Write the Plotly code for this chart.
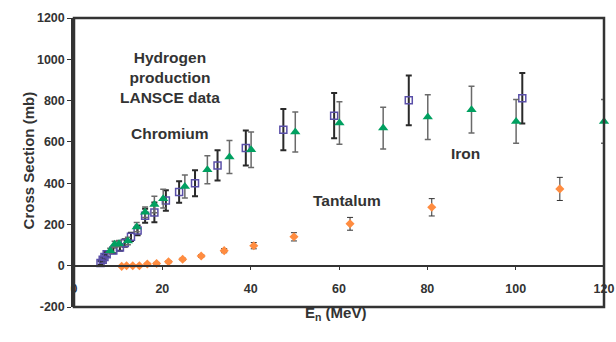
import plotly.graph_objects as go

# Chromium (open squares)
cr_E = [6.0, 6.5, 6.9, 7.4, 8.9, 10.4, 11.5, 12.9, 14.4, 16.1, 18.2, 20.8, 23.8, 27.4, 32.5, 38.9, 47.4, 58.9, 75.8, 101.5]
cr_v = [13, 29, 42, 55, 74, 88, 110, 140, 171, 242, 258, 316, 357, 400, 486, 570, 659, 727, 801, 811]
cr_e = [10, 10, 12, 12, 14, 16, 18, 20, 24, 34, 48, 50, 52, 63, 73, 85, 100, 110, 121, 122]

# Iron (green triangles)
fe_E = [8.2, 9.2, 10.2, 12.2, 14.2, 16.1, 18.2, 20.2, 25.1, 30.2, 35.2, 40.1, 50.1, 60.1, 70.0, 80.1, 90.0, 100.1, 120.0]
fe_v = [73, 104, 107, 120, 187, 259, 297, 325, 384, 465, 527, 562, 648, 691, 667, 720, 756, 699, 699]
fe_e = [12, 15, 15, 18, 22, 25, 40, 45, 56, 68, 80, 86, 97, 103, 101, 108, 113, 106, 106]

# Tantalum (orange diamonds)
ta_E = [10.8, 11.9, 13.3, 14.8, 16.6, 18.7, 21.4, 24.6, 28.8, 34.0, 40.7, 49.8, 62.5, 81.0, 110.0]
ta_v = [-3, 0, 0, 0, 8, 11, 19, 31, 47, 73, 97, 140, 203, 283, 372]
ta_e = [3, 3, 3, 3, 4, 5, 5, 6, 7, 10, 15, 20, 31, 42, 56]

x_ticks = [0, 20, 40, 60, 80, 100, 120]
y_ticks = [-200, 0, 200, 400, 600, 800, 1000, 1200]

fig = go.Figure()
fig.add_trace(go.Scatter(
    x=cr_E, y=cr_v, mode="markers", name="Chromium", cliponaxis=False,
    marker=dict(symbol="square-open", size=7, color="#5a4fa8", line=dict(width=1.5)),
    error_y=dict(type="data", array=cr_e, color="#2a2a2a", thickness=2, width=3),
))
fig.add_trace(go.Scatter(
    x=fe_E, y=fe_v, mode="markers", name="Iron", cliponaxis=False,
    marker=dict(symbol="triangle-up", size=9, color="#00a060"),
    error_y=dict(type="data", array=fe_e, color="#6a6a6a", thickness=1.5, width=3),
))
fig.add_trace(go.Scatter(
    x=ta_E, y=ta_v, mode="markers", name="Tantalum", cliponaxis=False,
    marker=dict(symbol="diamond", size=7, color="#ff8c40"),
    error_y=dict(type="data", array=ta_e, color="#333333", thickness=1, width=3),
))

bold = dict(family="Liberation Sans, Arial, sans-serif", size=12.5, color="#333333", weight="bold")

fig.update_layout(
    width=616, height=342,
    margin=dict(l=74, r=12, t=18, b=35, autoexpand=False),
    paper_bgcolor="white", plot_bgcolor="white",
    showlegend=False,
    xaxis=dict(range=[0, 120], tickvals=x_ticks, ticktext=[str(t) for t in x_ticks],
               anchor="free", position=200/1400, showline=True, linecolor="#333333", linewidth=1.5,
               ticks="outside", ticklen=4, tickcolor="#333333", tickfont=bold,
               ticklabelstandoff=8, showgrid=False, zeroline=False, automargin=False),
    yaxis=dict(range=[-200, 1200], tickvals=y_ticks, ticktext=[str(t) for t in y_ticks],
               showline=True, linecolor="#333333", linewidth=2.5,
               ticks="outside", ticklen=4, tickcolor="#333333", tickfont=bold,
               showgrid=False, zeroline=False, automargin=False),
    shapes=[dict(type="rect", xref="paper", yref="paper", x0=0, x1=1, y0=0, y1=1,
                 line=dict(color="#333333", width=2.5))],
)

ann_font = dict(family="Liberation Sans, Arial, sans-serif", size=15.5, color="#333333", weight="bold")
fig.add_annotation(x=21.7, y=911, text="Hydrogen<br>production<br>LANSCE data", showarrow=False, font=ann_font)
fig.add_annotation(x=21.7, y=640, text="Chromium", showarrow=False, font=ann_font)
fig.add_annotation(x=88.7, y=543, text="Iron", showarrow=False, font=ann_font)
fig.add_annotation(x=61.8, y=315, text="Tantalum", showarrow=False, font=ann_font)

title_font = dict(family="Liberation Sans, Arial, sans-serif", size=15, color="#333333", weight="bold")
fig.add_annotation(xref="paper", yref="paper", x=0.494, y=-0.062, text="E<sub>n</sub> (MeV)",
                   showarrow=False, font=title_font)
fig.add_annotation(xref="paper", yref="paper", x=-0.1057, y=0.509, text="Cross Section (mb)",
                   textangle=-90, showarrow=False, font=title_font)

fig.write_html("out.html")
